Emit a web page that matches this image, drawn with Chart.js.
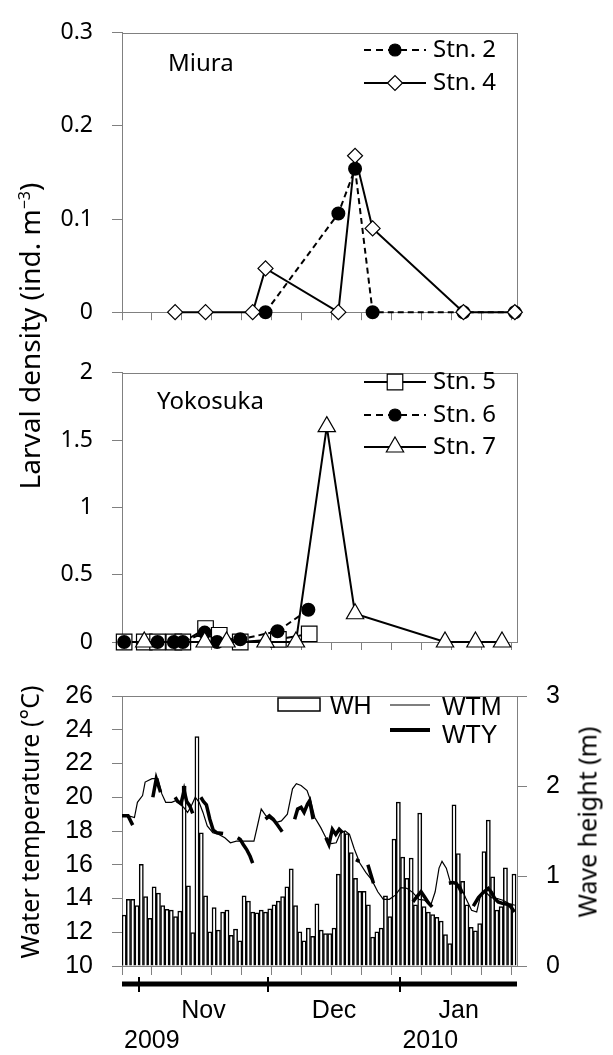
<!DOCTYPE html>
<html>
<head>
<meta charset="utf-8">
<script src="https://cdn.jsdelivr.net/npm/chart.js@4.4.0/dist/chart.umd.min.js"></script>
<style>
  body { margin: 0; background: #fff; width: 613px; height: 1055px; position: relative; overflow: hidden; font-family: 'Noto Sans', sans-serif; }
  canvas { position: absolute; left: 0; }
  .vt { position: absolute; transform: translate(-50%, -50%) rotate(-90deg); white-space: nowrap; color: #000; line-height: 1; }
  .vt sup { font-size: 16px; vertical-align: 10px; }
</style>
</head>
<body>
<canvas id="c1" width="613" height="345" style="top:0"></canvas>
<canvas id="c2" width="613" height="335" style="top:340px"></canvas>
<canvas id="c3" width="613" height="393" style="top:662px"></canvas>
<div class="vt" style="left:29px;top:336px;font-size:28px">Larval density (ind. m<sup>−3</sup>)</div>
<div class="vt" style="left:29px;top:822px;font-size:25px">Water temperature (°C)</div>
<div class="vt" style="left:587px;top:822px;font-size:25px">Wave height (m)</div>
<script>
// day 0 = 28 Oct 2009
const DAY0 = Date.UTC(2009, 9, 28);
const dayOf = (y, m, d) => (Date.UTC(y, m - 1, d) - DAY0) / 864e5;
const xMax = 92.2;

// Miura
const miuraDays4 = [12.4, 19.5, 30.5, 33.5, 50.5, 54.4, 58.5, 79.7, 91.7];
const stn4 = [0, 0, 0, 0.047, 0, 0.168, 0.09, 0, 0];
const miuraDays2 = [33.5, 50.5, 54.4, 58.5, 79.7, 91.7];
const stn2 = [0, 0.106, 0.154, 0, 0, 0];

// Yokosuka
const yokoDays5 = [0.5, 5.2, 8.3, 12.1, 14.2, 19.5, 22.7, 27.6, 36.5, 43.7];
const stn5 = [0, 0, 0, 0, 0, 0.10, 0.05, 0, 0.02, 0.06];
const yokoDays6 = [0.5, 8.3, 12.1, 14.2, 19.3, 22.2, 27.6, 36.3, 43.5];
const stn6 = [0, 0, 0, 0, 0.07, 0, 0.02, 0.08, 0.24];
const yokoDays7 = [5.2, 19.3, 24.4, 33.5, 40.6, 47.8, 54.4, 75.4, 82.5, 88.7];
const stn7 = [0, 0, 0, 0, 0, 1.6, 0.21, 0, 0, 0];

// daily wave height (m), 28 Oct 2009 - 27 Jan 2010
const waveHeight = [
  0.565, 0.74, 0.74, 0.67, 1.13, 0.77, 0.53, 0.88, 0.81, 0.67, 0.63, 0.62, 0.55, 0.61, 2.0, 0.89,
  0.37, 2.55, 1.48, 0.78, 0.38, 0.65, 0.40, 0.60, 0.62, 0.34, 0.41, 0.28, 0.78, 0.72, 0.60, 0.59,
  0.62, 0.60, 0.635, 0.68, 0.72, 0.77, 0.88, 1.08, 0.67, 0.38, 0.28, 0.42, 0.33, 0.69, 0.40, 0.36,
  0.36, 0.42, 1.02, 1.50, 1.47, 1.26, 0.975, 0.83, 0.83, 0.68, 0.32, 0.38, 0.42, 0.78, 0.55, 1.41,
  1.82, 1.21, 0.975, 1.20, 0.68, 1.70, 0.66, 0.60, 0.57, 0.54, 0.50, 0.35, 0.25, 1.79, 1.25, 0.94,
  0.68, 0.43, 0.39, 0.47, 1.27, 1.62, 0.99, 0.62, 0.66, 1.09, 0.69, 1.02
];

// water temperature, Miura (WTM)
const wtmDays = [0, 1.6, 2.9, 3.6, 4.8, 5.4, 7.0, 8.4, 9.3, 10.2, 11.6, 12.5, 13.4, 14.4, 15.3, 16.2, 17.1, 18.0, 18.9, 19.9,
  21.2, 22.6, 24.0, 25.3, 26.7, 29.5, 30.8, 31.7, 32.5, 33.6, 35.9, 37.2, 38.6, 39.8, 40.7, 41.8, 43.2, 44.1, 45.0, 46.4,
  47.8, 48.9, 50.0, 51.0, 52.1, 53.1, 54.2, 55.5, 56.9, 58.3, 59.7, 61.0, 62.4, 63.8, 65.1, 66.5, 67.9, 69.3, 70.6, 72.0,
  73.1, 74.0, 74.7, 75.7, 76.6, 77.5, 78.9, 80.2, 81.6, 82.8, 83.7, 84.8, 86.2, 87.6, 88.9, 90.3, 91.7];
const wtmTemp = [18.9, 18.9, 18.8, 19.7, 20.1, 20.9, 21.1, 21.1, 20.2, 19.7, 19.7, 19.8, 19.6, 19.4, 19.1, 19.5, 20.0, 19.7, 19.1, 18.3,
  17.9, 17.8, 17.6, 17.3, 17.4, 17.4, 17.4, 18.4, 19.3, 18.9, 18.5, 18.6, 19.0, 20.5, 20.8, 20.7, 20.4, 19.75, 18.8, 18.2,
  17.5, 17.25, 17.3, 17.9, 18.0, 17.8, 16.95, 16.1, 15.55, 15.1, 14.4, 13.95, 13.95, 14.2, 14.65, 14.6, 14.35, 13.95, 13.9, 13.55,
  14.4, 15.8, 16.2, 15.8, 15.0, 14.9, 14.8, 14.05, 13.3, 13.2, 14.2, 14.4, 14.05, 14.0, 13.9, 13.7, 13.6];

// water temperature, Yokosuka (WTY), null = no record
const wtyDays = [0, 1.4, 2.5, 5, 7.2, 8.0, 9.0, 10, 12.4, 13.0, 13.8, 14.5, 15.1, 15.8, 16.5, 17,
  18.4, 19.0, 19.7, 20.5, 21.3, 22.1, 23.6, 25, 27.0, 27.6, 28.3, 29.1, 29.9, 30.5, 32,
  33.5, 34.4, 35.3, 36.3, 37.4, 39, 40.3, 41.0, 41.8, 42.5, 43.3, 43.8, 44.6, 46,
  47.6, 48.3, 49.1, 49.9, 50.7, 51.5, 53, 54.6, 55.4, 56, 57.4, 58.7, 60,
  67.9, 68.8, 69.8, 70.6, 71.5, 72.4, 74, 76.3, 77.2, 78.0, 78.8, 79.4, 81,
  82.0, 83.2, 84.3, 85.5, 86.3, 87.0, 87.8, 89.0, 90.0, 90.8, 91.6];
const wtyTemp = [18.9, 18.9, 18.35, null, 20.0, 21.1, 20.3, null, 20.0, 19.75, 19.65, 20.4, 19.75, 19.5, 19.05, null,
  20.0, 19.75, 19.55, 18.7, 18.05, 17.9, 17.85, null, 17.6, 17.5, 17.2, 16.9, 16.5, 16.1, null,
  18.7, 18.9, 18.7, 18.35, 17.95, null, 18.7, 19.3, 19.4, 19.1, 19.6, 19.8, 18.7, null,
  17.6, 17.2, 18.1, 17.8, 18.1, 17.9, null, 16.3, 16.2, null, 16.0, 14.9, null,
  13.8, 14.1, 14.4, 14.1, 13.75, 13.5, null, 14.9, 14.95, 14.9, 14.6, 14.3, null,
  13.55, 14.05, 14.35, 14.6, 14.35, 14.0, 13.8, 13.7, 13.65, 13.5, 13.2];

const monthNames = ['Nov', 'Dec', 'Jan'];
const monthStarts = [dayOf(2009, 11, 1), dayOf(2009, 12, 1), dayOf(2010, 1, 1)];
const yearNames = ['2009', '2010'];
const yearStarts = [0, dayOf(2010, 1, 1)];

const pts = (xs, ys) => xs.map((x, i) => ({ x: x, y: ys[i] }));

const gray = '#808080';
const sans = "'Noto Sans', sans-serif";
const lib = "'Liberation Sans', Arial, sans-serif";

function xAxis(h, tickLen) {
  return {
    type: 'linear', min: 0, max: xMax, offset: false,
    ticks: { stepSize: 7, includeBounds: false, autoSkip: false, maxRotation: 0, callback: () => '' },
    grid: { drawOnChartArea: false, tickLength: tickLen, color: gray, offset: false },
    border: { color: gray },
    afterFit: s => { s.height = h; }
  };
}
function yAxis(min, max, step, pos, w, font) {
  return {
    type: 'linear', position: pos, min: min, max: max,
    ticks: { stepSize: step, padding: 19, crossAlign: 'near', color: '#000', font: font,
      callback: v => String(+v.toFixed(2)) },
    grid: { drawOnChartArea: false, drawTicks: true, tickLength: 10, color: gray },
    border: { color: gray },
    afterFit: s => { s.width = w; }
  };
}

function drawMarker(ctx, style, x, y, r, fill) {
  ctx.beginPath();
  if (style === 'circle') ctx.arc(x, y, r, 0, Math.PI * 2);
  else if (style === 'rectRot') { ctx.moveTo(x - r, y); ctx.lineTo(x, y - r); ctx.lineTo(x + r, y); ctx.lineTo(x, y + r); ctx.closePath(); }
  else if (style === 'rect') { const s = r * Math.SQRT1_2; ctx.rect(x - s, y - s, 2 * s, 2 * s); }
  else if (style === 'triangle') { ctx.moveTo(x, y - r); ctx.lineTo(x + r * 0.866, y + r * 0.5); ctx.lineTo(x - r * 0.866, y + r * 0.5); ctx.closePath(); }
  ctx.fillStyle = fill; ctx.fill();
  ctx.lineWidth = 1.2; ctx.strokeStyle = '#000'; ctx.stroke();
}

// box around the plot area
const framePlugin = {
  id: 'frame',
  beforeDatasetsDraw(chart) {
    const a = chart.chartArea, ctx = chart.ctx;
    ctx.save();
    ctx.strokeStyle = gray; ctx.lineWidth = 1;
    ctx.strokeRect(Math.round(a.left) + 0.5, Math.round(a.top) + 0.5, Math.round(a.right - a.left), Math.round(a.bottom - a.top));
    ctx.restore();
  }
};

// panel names and legends
const notesPlugin = {
  id: 'notes',
  afterDraw(chart, args, opts) {
    const ctx = chart.ctx;
    ctx.save();
    ctx.textBaseline = 'middle';
    (opts.items || []).forEach(it => {
      if (it.line) {
        ctx.beginPath();
        ctx.setLineDash(it.dash || []);
        ctx.lineWidth = it.lw || 2; ctx.strokeStyle = '#000';
        ctx.moveTo(it.x1, it.y); ctx.lineTo(it.x2, it.y); ctx.stroke();
        ctx.setLineDash([]);
        if (it.marker) drawMarker(ctx, it.marker, (it.x1 + it.x2) / 2, it.y, it.r, it.fill);
      }
      if (it.box) {
        ctx.fillStyle = '#fff'; ctx.fillRect(it.box[0], it.box[1], it.box[2], it.box[3]);
        ctx.lineWidth = 1.5; ctx.strokeStyle = '#000';
        ctx.strokeRect(it.box[0], it.box[1], it.box[2], it.box[3]);
      }
      if (it.text) {
        ctx.font = it.font; ctx.fillStyle = '#000'; ctx.textAlign = 'left';
        ctx.fillText(it.text, it.tx, it.ty);
      }
    });
    ctx.restore();
  }
};

// month bar and labels under the bottom panel
const monthPlugin = {
  id: 'months',
  afterDraw(chart) {
    const ctx = chart.ctx, xs = chart.scales.x, a = chart.chartArea;
    const yBar = a.bottom + 18;
    ctx.save();
    ctx.strokeStyle = '#000';
    ctx.lineWidth = 5;
    ctx.beginPath(); ctx.moveTo(xs.getPixelForValue(0), yBar); ctx.lineTo(xs.getPixelForValue(xMax), yBar); ctx.stroke();
    ctx.lineWidth = 2;
    monthStarts.forEach(d => {
      const px = Math.round(xs.getPixelForValue(d));
      ctx.beginPath(); ctx.moveTo(px, yBar - 7); ctx.lineTo(px, yBar + 8); ctx.stroke();
    });
    ctx.fillStyle = '#000';
    ctx.font = '25px ' + lib;
    ctx.textBaseline = 'middle';
    ctx.textAlign = 'center';
    monthNames.forEach((m, i) => {
      const end = i + 1 < monthStarts.length ? monthStarts[i + 1] : xMax;
      ctx.fillText(m, xs.getPixelForValue((monthStarts[i] + end) / 2), a.bottom + 45);
    });
    ctx.textAlign = 'left';
    yearNames.forEach((y, i) => {
      ctx.fillText(y, xs.getPixelForValue(yearStarts[i]) + 2, a.bottom + 75);
    });
    ctx.restore();
  }
};

const common = { responsive: false, animation: false, events: [] };
const tickTop = { family: sans, size: 23 };
const tickBot = { family: lib, size: 25 };
const keyFont = '24px ' + sans;
const keyFontBot = '25px ' + lib;

new Chart(document.getElementById('c1'), {
  type: 'line',
  data: {
    datasets: [
      { label: 'Stn. 4', data: pts(miuraDays4, stn4), borderColor: '#000', borderWidth: 2, tension: 0,
        pointStyle: 'rectRot', pointRadius: 7.5, pointBackgroundColor: '#fff', pointBorderColor: '#000', pointBorderWidth: 1.2, order: 0, clip: false },
      { label: 'Stn. 2', data: pts(miuraDays2, stn2), borderColor: '#000', borderWidth: 2, borderDash: [6, 4], tension: 0,
        pointStyle: 'circle', pointRadius: 6, pointBackgroundColor: '#000', pointBorderColor: '#000', order: 1, clip: false }
    ]
  },
  options: Object.assign({}, common, {
    layout: { padding: { top: 18, right: 96, left: 0, bottom: 0 } },
    scales: { x: xAxis(30, 8), y: yAxis(0, 0.3, 0.1, 'left', 122, tickTop) },
    plugins: {
      legend: { display: false }, tooltip: { enabled: false },
      notes: { items: [
        { text: 'Miura', tx: 168, ty: 64, font: keyFont },
        { line: true, x1: 364, x2: 426, y: 50, dash: [7, 5], marker: 'circle', r: 6, fill: '#000', text: 'Stn. 2', tx: 433, ty: 50, font: keyFont },
        { line: true, x1: 364, x2: 426, y: 83, marker: 'rectRot', r: 7.5, fill: '#fff', text: 'Stn. 4', tx: 433, ty: 83, font: keyFont }
      ] }
    }
  }),
  plugins: [framePlugin, notesPlugin]
});

new Chart(document.getElementById('c2'), {
  type: 'line',
  data: {
    datasets: [
      { label: 'Stn. 7', data: pts(yokoDays7, stn7), borderColor: '#000', borderWidth: 2, tension: 0,
        pointStyle: 'triangle', pointRadius: 10, pointBackgroundColor: '#fff', pointBorderColor: '#000', pointBorderWidth: 1.2, order: 0, clip: false },
      { label: 'Stn. 6', data: pts(yokoDays6, stn6), borderColor: '#000', borderWidth: 2, borderDash: [6, 4], tension: 0,
        pointStyle: 'circle', pointRadius: 6, pointBackgroundColor: '#000', pointBorderColor: '#000', order: 1, clip: false },
      { label: 'Stn. 5', data: pts(yokoDays5, stn5), borderColor: '#000', borderWidth: 2, tension: 0,
        pointStyle: 'rect', pointRadius: 11, pointBackgroundColor: '#fff', pointBorderColor: '#000', pointBorderWidth: 1.2, order: 2, clip: false }
    ]
  },
  options: Object.assign({}, common, {
    layout: { padding: { top: 18, right: 96, left: 0, bottom: 0 } },
    scales: { x: xAxis(33, 8), y: yAxis(0, 2, 0.5, 'left', 122, tickTop) },
    plugins: {
      legend: { display: false }, tooltip: { enabled: false },
      notes: { items: [
        { text: 'Yokosuka', tx: 157, ty: 62, font: keyFont },
        { line: true, x1: 364, x2: 426, y: 42, marker: 'rect', r: 11, fill: '#fff', text: 'Stn. 5', tx: 433, ty: 42, font: keyFont },
        { line: true, x1: 364, x2: 426, y: 75, dash: [7, 5], marker: 'circle', r: 6, fill: '#000', text: 'Stn. 6', tx: 433, ty: 75, font: keyFont },
        { line: true, x1: 364, x2: 426, y: 107, marker: 'triangle', r: 10, fill: '#fff', text: 'Stn. 7', tx: 433, ty: 107, font: keyFont }
      ] }
    }
  }),
  plugins: [framePlugin, notesPlugin]
});

new Chart(document.getElementById('c3'), {
  type: 'bar',
  data: {
    datasets: [
      { type: 'line', label: 'WTY', data: pts(wtyDays, wtyTemp), yAxisID: 'y', borderColor: '#000', borderWidth: 3.5,
        pointRadius: 0, tension: 0, spanGaps: false, order: 0 },
      { type: 'line', label: 'WTM', data: pts(wtmDays, wtmTemp), yAxisID: 'y', borderColor: '#000', borderWidth: 1.2,
        pointRadius: 0, tension: 0, order: 1 },
      { type: 'bar', label: 'WH', data: waveHeight.map((v, i) => ({ x: i + 0.5, y: v })), yAxisID: 'y2',
        backgroundColor: '#fff', borderColor: '#000', borderWidth: 1.5, barThickness: 4.2, order: 2 }
    ]
  },
  options: Object.assign({}, common, {
    layout: { padding: { top: 18, right: 0, left: 0, bottom: 0 } },
    scales: {
      x: xAxis(89, 9),
      y: yAxis(10, 26, 2, 'left', 122, tickBot),
      y2: yAxis(0, 3, 1, 'right', 96, tickBot)
    },
    plugins: {
      legend: { display: false }, tooltip: { enabled: false },
      notes: { items: [
        { box: [278, 36, 42, 13], text: 'WH', tx: 330, ty: 45, font: keyFontBot },
        { line: true, x1: 390, x2: 430, y: 43, lw: 1.2, text: 'WTM', tx: 442, ty: 46, font: keyFontBot },
        { line: true, x1: 390, x2: 430, y: 68, lw: 4, text: 'WTY', tx: 442, ty: 74, font: keyFontBot }
      ] }
    }
  }),
  plugins: [framePlugin, notesPlugin, monthPlugin]
});
</script>
</body>
</html>
